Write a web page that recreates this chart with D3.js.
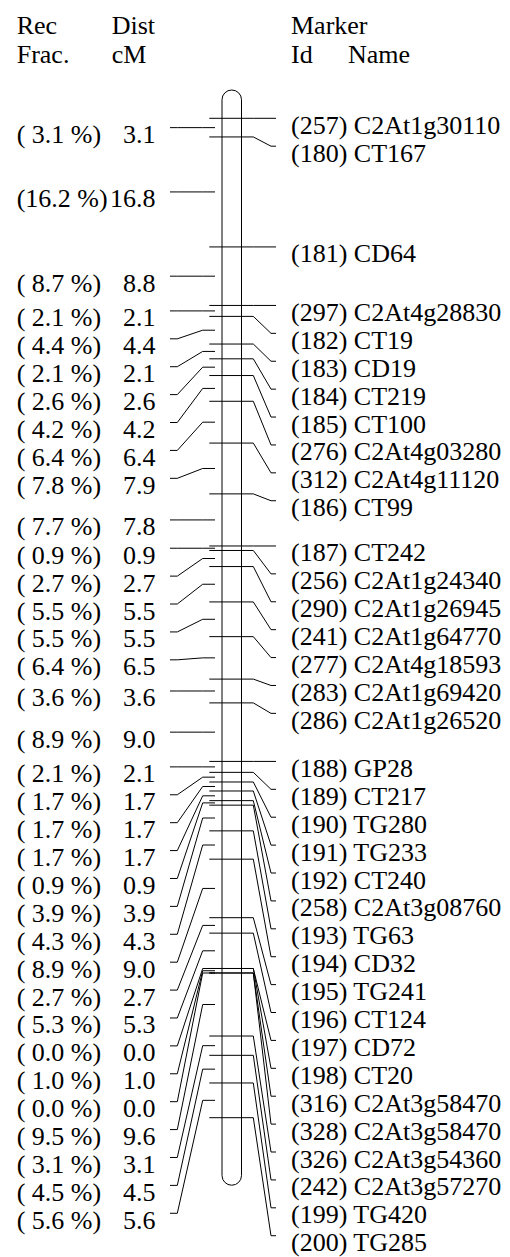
<!DOCTYPE html>
<html>
<head>
<meta charset="utf-8">
<script src="https://cdn.jsdelivr.net/npm/d3@7"></script>
<style>
  body { margin: 0; background: #fff; }
  svg text { font-family: "Liberation Serif", "Times New Roman", serif; font-size: 26px; fill: #000; }
</style>
</head>
<body>
<div id="map"></div>
<script>
// marker order along the linkage group (top to bottom)
var markerIds = [257, 180, 181, 297, 182, 183, 184, 185, 276, 312, 186, 187, 256, 290, 241, 277, 283, 286,
  188, 189, 190, 191, 192, 258, 193, 194, 195, 196, 197, 198, 316, 328, 326, 242, 199, 200];
var markerNames = ['C2At1g30110', 'CT167', 'CD64', 'C2At4g28830', 'CT19', 'CD19', 'CT219', 'CT100',
  'C2At4g03280', 'C2At4g11120', 'CT99', 'CT242', 'C2At1g24340', 'C2At1g26945', 'C2At1g64770',
  'C2At4g18593', 'C2At1g69420', 'C2At1g26520', 'GP28', 'CT217', 'TG280', 'TG233', 'CT240',
  'C2At3g08760', 'TG63', 'CD32', 'TG241', 'CT124', 'CD72', 'CT20', 'C2At3g58470', 'C2At3g58470',
  'C2At3g54360', 'C2At3g57270', 'TG420', 'TG285'];
// map position of each marker (cM)
var markerPos = [0, 2.9, 20.0, 29.1, 30.8, 35.1, 37.4, 40.0, 44.0, 50.5, 58.4, 66.5, 67.2, 69.7, 75.2,
  80.6, 87.2, 90.9, 100.0, 101.7, 103.2, 104.6, 106.1, 106.8, 110.8, 115.2, 124.3, 126.7, 132.2, 132.2,
  132.9, 132.9, 142.7, 145.7, 150.0, 155.4];
// interval values between neighbouring markers
var recFrac = [3.1, 16.2, 8.7, 2.1, 4.4, 2.1, 2.6, 4.2, 6.4, 7.8, 7.7, 0.9, 2.7, 5.5, 5.5, 6.4, 3.6, 8.9,
  2.1, 1.7, 1.7, 1.7, 0.9, 3.9, 4.3, 8.9, 2.7, 5.3, 0.0, 1.0, 0.0, 9.5, 3.1, 4.5, 5.6];
var distCM = [3.1, 16.8, 8.8, 2.1, 4.4, 2.1, 2.6, 4.2, 6.4, 7.9, 7.8, 0.9, 2.7, 5.5, 5.5, 6.5, 3.6, 9.0,
  2.1, 1.7, 1.7, 1.7, 0.9, 3.9, 4.3, 9.0, 2.7, 5.3, 0.0, 1.0, 0.0, 9.6, 3.1, 4.5, 5.6];
var chromExtent = [-4.4, 165.9];

var width = 510, height = 1257;
var labelGap = 27.9, baseShift = 15.5;

var svg = d3.select('#map').append('svg')
  .attr('width', width)
  .attr('height', height);

var y = d3.scaleLinear()
  .domain([0, 155.4])
  .range([118.3, 1117.7]);

// push labels down so they never overlap
function spread(targets) {
  var out = [];
  targets.forEach(function (t, i) {
    out.push(i === 0 ? t : Math.max(t, out[i - 1] + labelGap));
  });
  return out;
}

var markerY = markerPos.map(function (p) { return y(p); });
var rightLabelY = spread(markerY);
var tickY = distCM.map(function (d, i) { return (markerY[i] + markerY[i + 1]) / 2; });
var leftLabelY = spread(tickY);

var line = d3.line();

// headers
var head = svg.append('g');
[['Rec', 16.7, 34.3], ['Frac.', 16.7, 63.3], ['Dist', 111.7, 34.3], ['cM', 111.7, 63.3],
 ['Marker', 291, 34.3], ['Id', 291, 63.3], ['Name', 348, 63.3]].forEach(function (h) {
  head.append('text').attr('x', h[1]).attr('y', h[2]).text(h[0]);
});

// chromosome
svg.append('rect')
  .attr('x', 222)
  .attr('y', y(chromExtent[0]))
  .attr('width', 19.5)
  .attr('height', y(chromExtent[1]) - y(chromExtent[0]))
  .attr('rx', 9.75)
  .attr('ry', 9.75)
  .attr('fill', 'none')
  .attr('stroke', '#000')
  .attr('stroke-width', 1);

// markers on the right
var right = svg.append('g');
right.selectAll('path')
  .data(markerIds)
  .enter().append('path')
  .attr('fill', 'none')
  .attr('stroke', '#000')
  .attr('stroke-width', 1)
  .attr('d', function (d, i) {
    return line([[209.3, markerY[i]], [253.3, markerY[i]], [271, rightLabelY[i]], [276, rightLabelY[i]]]);
  });
right.selectAll('text')
  .data(markerIds)
  .enter().append('text')
  .attr('x', 291)
  .attr('y', function (d, i) { return rightLabelY[i] + baseShift; })
  .text(function (d, i) { return '(' + d + ') ' + markerNames[i]; });

// intervals on the left
var left = svg.append('g');
left.selectAll('path')
  .data(distCM)
  .enter().append('path')
  .attr('fill', 'none')
  .attr('stroke', '#000')
  .attr('stroke-width', 1)
  .attr('d', function (d, i) {
    return line([[170, leftLabelY[i]], [177.3, leftLabelY[i]], [202.7, tickY[i]], [215, tickY[i]]]);
  });
left.selectAll('text.rf')
  .data(recFrac)
  .enter().append('text')
  .attr('class', 'rf')
  .attr('x', 16.7)
  .attr('y', function (d, i) { return leftLabelY[i] + baseShift; })
  .text(function (d) { return '(' + (d < 10 ? ' ' : '') + d.toFixed(1) + ' %)'; });
left.selectAll('text.cm')
  .data(distCM)
  .enter().append('text')
  .attr('class', 'cm')
  .attr('x', 155.5)
  .attr('text-anchor', 'end')
  .attr('y', function (d, i) { return leftLabelY[i] + baseShift; })
  .text(function (d) { return d.toFixed(1); });
</script>
</body>
</html>
